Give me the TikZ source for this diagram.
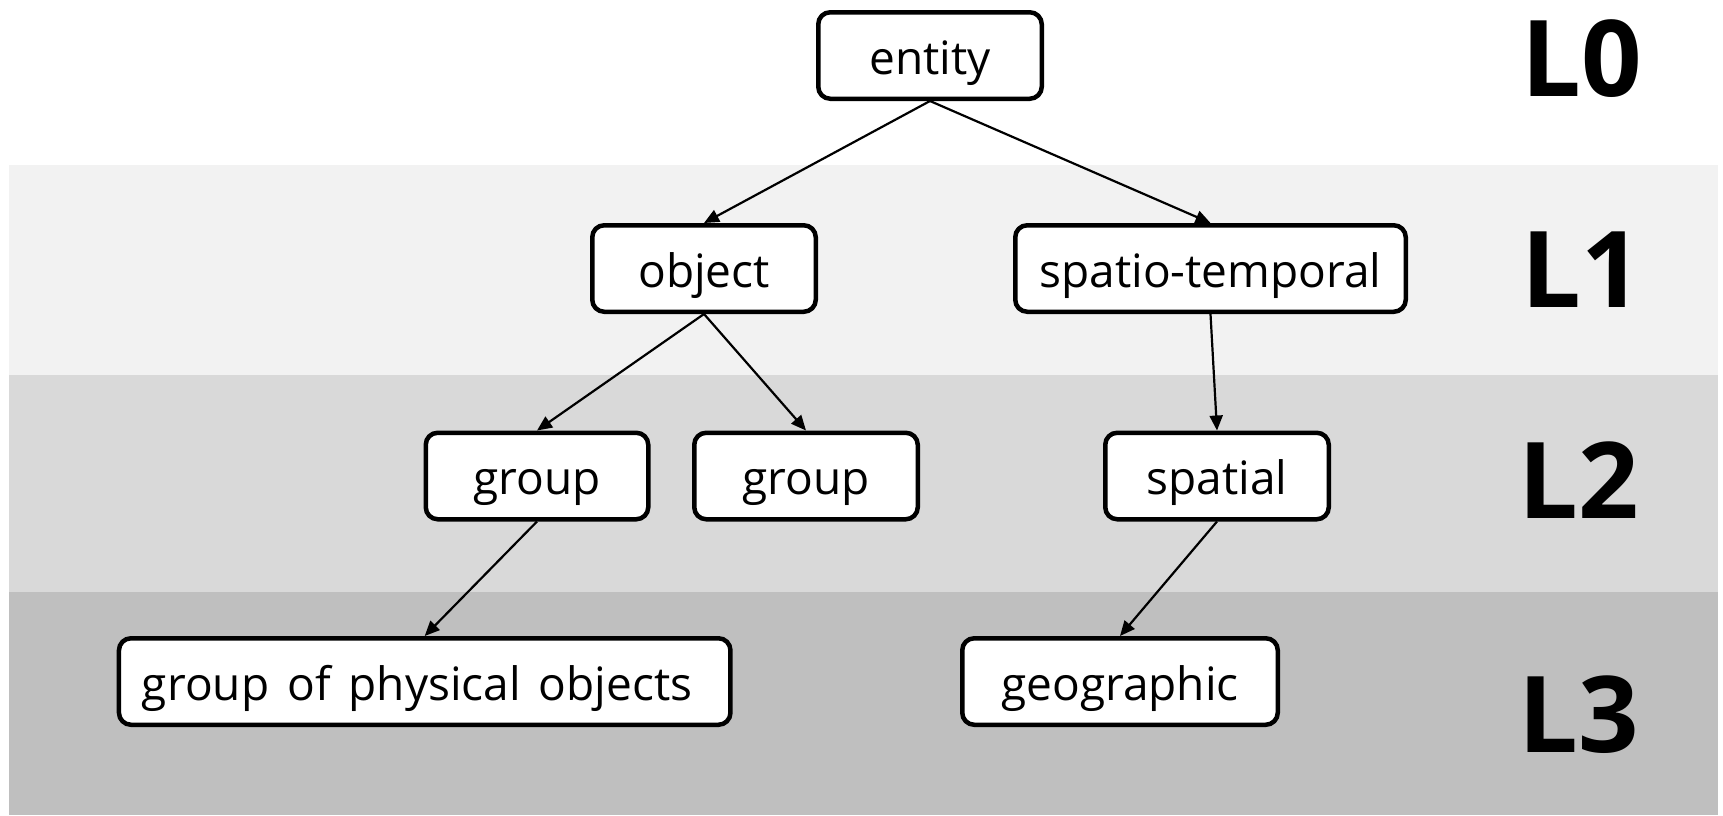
\documentclass[tikz,border=0pt]{standalone}
\usepackage{fontspec}
\setmainfont{Open Sans}
\usetikzlibrary{arrows.meta}
\definecolor{bandA}{gray}{0.949}
\definecolor{bandB}{gray}{0.851}
\definecolor{bandC}{gray}{0.749}
\tikzset{
  concept/.style={draw=black, line width=4.5pt, rounded corners=12pt, fill=white,
    minimum height=86.5pt, inner sep=0pt, text height=48pt, text depth=11pt,
    font=\fontsize{46}{50}\selectfont},
  link/.style={line width=2.2pt, -{Triangle[length=15pt,width=13pt]}},
  level/.style={anchor=base west, inner sep=0pt, font=\fontsize{106}{110}\selectfont\bfseries},
}
\newcommand{\wordgap}{\hspace{18pt}}
\begin{document}
\begin{tikzpicture}[x=1pt, y=-1pt]
  \useasboundingbox (0,0) rectangle (1723,815);
  % level bands
  \fill[bandA] (9,165) rectangle (1718,375);
  \fill[bandB] (9,375) rectangle (1718,592);
  \fill[bandC] (9,592) rectangle (1718,815);

  % concepts
  \node[concept, minimum width=223.5pt] (entity) at (930,55.5) {entity};
  \node[concept, minimum width=223.5pt] (object) at (704,268.5) {object};
  \node[concept, minimum width=390.5pt] (spatiotemporal) at (1210.5,268.5) {spatio-temporal};
  \node[concept, minimum width=222.5pt] (groupA) at (537,476) {group};
  \node[concept, minimum width=223.5pt] (groupB) at (806,476) {group};
  \node[concept, minimum width=223.5pt] (spatial) at (1217,476) {spatial};
  \node[concept, minimum width=611.5pt] (physgroup) at (424.7,681.5) {group\wordgap of\wordgap physical\wordgap objects\kern15pt\relax};
  \node[concept, minimum width=315.5pt] (geographic) at (1120,681.5) {geographic};

  % hierarchy links
  \draw[link] (entity.south) -- (object.north);
  \draw[link] (entity.south) -- (spatiotemporal.north);
  \draw[link] (object.south) -- (groupA.north);
  \draw[link] (object.south) -- (groupB.north);
  \draw[link] (spatiotemporal.south) -- (spatial.north);
  \draw[link] (groupA.south) -- (physgroup.north);
  \draw[link] (spatial.south) -- (geographic.north);

  % level labels
  \node[level] (L0) at (1521,96.7) {L0};
  \node[level] (L1) at (1521,307.7) {L1};
  \node[level] (L2) at (1518,518.7) {L2};
  \node[level] (L3) at (1518,752.7) {L3};
\end{tikzpicture}
\end{document}
